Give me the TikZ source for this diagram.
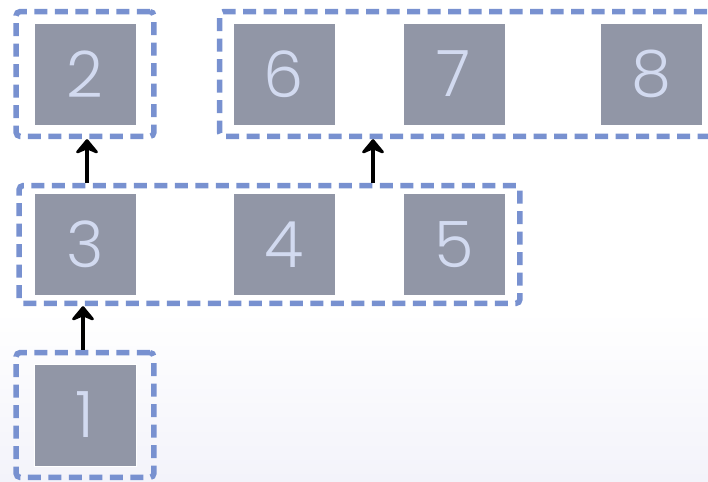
\documentclass[tikz,border=0pt]{standalone}
\usepackage{fontspec}
\IfFontExistsTF{Poppins Light}{\newfontfamily\digitfont{Poppins Light}}{%
  \IfFontExistsTF{Lato Light}{\newfontfamily\digitfont{Lato Light}}{\newfontfamily\digitfont{Poppins}}}
\usetikzlibrary{arrows.meta,fit,positioning}
\definecolor{cellgray}{RGB}{145,150,166}
\definecolor{digitblue}{RGB}{210,218,240}
\definecolor{dashblue}{RGB}{120,145,208}
\definecolor{bglav}{RGB}{243,243,250}

\begin{document}
\begin{tikzpicture}[x=1pt, y=-1pt, cell/.style={rectangle, fill=cellgray, draw=white, line width=0.8pt, minimum size=102pt, inner sep=0pt, text=digitblue, font=\digitfont\fontsize{64}{64}\selectfont}, group/.style={rectangle, draw=dashblue, line width=5.5pt, dash pattern=on 13pt off 7.5pt, rounded corners=4pt, inner xsep=17.5pt, inner ysep=11pt}, link/.style={-{Stealth[length=17pt, width=28pt, inset=6pt, round]}, line width=4pt, black}]

    % background
    \useasboundingbox (0,0) rectangle (708,481);
    \clip (0,0) rectangle (708,481);
    \fill[white] (0,0) rectangle (708,310);
    \shade[top color=white, bottom color=bglav] (0,310) rectangle (708,481);

    \node[cell] (c2) at (85,74) {2};
    \node[cell] (c6) at (284,74) {6};
    \node[cell] (c7) at (454,74) {7};
    \node[cell] (c8) at (651,74) {8};
    \node[cell] (c3) at (85,244.5) {3};
    \node[cell] (c4) at (284,244.5) {4};
    \node[cell] (c5) at (454,244.5) {5};
    \node[cell] (c1) at (85,415) {1};
    \coordinate (edge) at (780,74);

    \node[group, fit=(c2)] (g2) {};
    \node[group, fit=(c6) (edge), inner xsep=13pt] (g678) {};
    \node[group, fit=(c3) (c5), inner xsep=14.5pt, inner ysep=7.5pt] (g345) {};
    \node[group, fit=(c1)] (g1) {};

    \draw[link] (g1.north -| 83,0) -- (g345.south -| 83,0);
    \draw[link] (g345.north -| 87,0) -- (g2.south -| 87,0);
    \draw[link] (g345.north -| 373,0) -- (g678.south -| 373,0);
\end{tikzpicture}
\end{document}
